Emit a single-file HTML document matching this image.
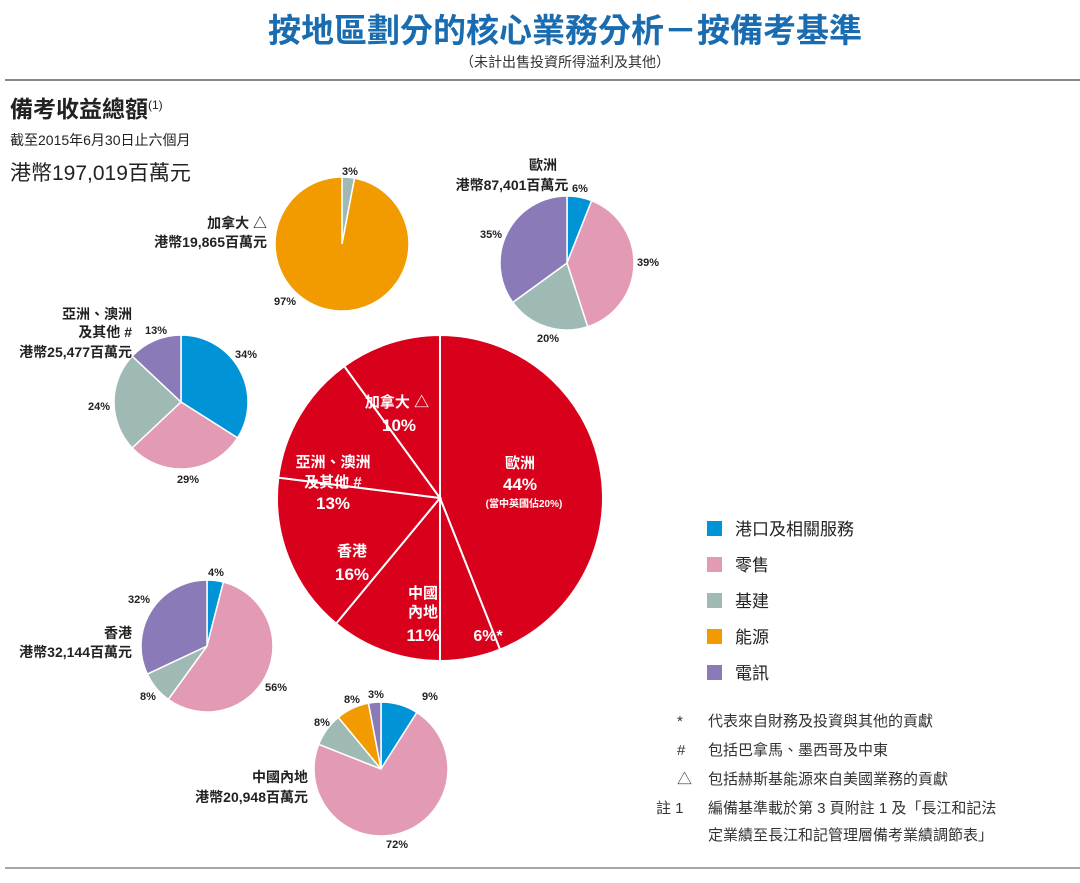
<!DOCTYPE html>
<html><head><meta charset="utf-8"><style>
body{margin:0;width:1080px;height:883px;background:#fff;overflow:hidden;font-family:"Liberation Sans","Noto Sans CJK TC",sans-serif;}
svg{display:block}
</style></head><body>
<svg id="chart" width="1080" height="883" font-family="Liberation Sans, Noto Sans CJK TC, sans-serif">
<text x="565" y="42" text-anchor="middle" font-size="33" font-weight="bold" fill="#1a6cb0">按地區劃分的核心業務分析－按備考基準</text>
<text x="565" y="67" text-anchor="middle" font-size="14" fill="#333">（未計出售投資所得溢利及其他）</text>
<line x1="5" y1="80" x2="1080" y2="80" stroke="#888" stroke-width="2"/>
<text x="10" y="117" font-size="23" font-weight="bold" fill="#222">備考收益總額<tspan font-size="12" dy="-8" font-weight="normal">(1)</tspan></text>
<text x="10" y="145" font-size="14" fill="#222">截至2015年6月30日止六個月</text>
<text x="10" y="180" font-size="21" fill="#222">港幣197,019百萬元</text>
<g id="pies"></g>
<g id="labels" font-size="13" fill="#222" font-weight="bold"></g>
<g font-size="17" fill="#222">
<rect x="707" y="521" width="15" height="15" fill="#0093d6"/><text x="735" y="535">港口及相關服務</text>
<rect x="707" y="557" width="15" height="15" fill="#e39ab5"/><text x="735" y="571">零售</text>
<rect x="707" y="593" width="15" height="15" fill="#9fbab4"/><text x="735" y="607">基建</text>
<rect x="707" y="629" width="15" height="15" fill="#f29b00"/><text x="735" y="643">能源</text>
<rect x="707" y="665" width="15" height="15" fill="#8a7bb8"/><text x="735" y="679">電訊</text>
</g>
<g font-size="15" fill="#333">
<text x="677" y="726">*</text><text x="708" y="726">代表來自財務及投資與其他的貢獻</text>
<text x="677" y="755">#</text><text x="708" y="755">包括巴拿馬、墨西哥及中東</text>
<text x="677" y="784">△</text><text x="708" y="784">包括赫斯基能源來自美國業務的貢獻</text>
<text x="656" y="813">註 1</text><text x="708" y="813">編備基準載於第 3 頁附註 1 及「長江和記法</text>
<text x="708" y="840">定業績至長江和記管理層備考業績調節表」</text>
</g>
<line x1="5" y1="868" x2="1080" y2="868" stroke="#888" stroke-width="1.5"/>
</svg>
<script>
const mainRegions=["歐洲","其他","中國內地","香港","亞洲、澳洲及其他","加拿大"];
const mainValues=[44,6,11,16,13,10];
const canadaValues=[0,0,3,97,0];
const europeValues=[6,39,20,0,35];
const asiaValues=[34,29,24,0,13];
const hkValues=[4,56,8,0,32];
const chinaValues=[9,72,8,8,3];
const segColors=["#0093d6","#e39ab5","#9fbab4","#f29b00","#8a7bb8"];
const NS="http://www.w3.org/2000/svg";
const g=document.getElementById('pies');
function pt(cx,cy,r,f){const a=f*2*Math.PI;return [cx+r*Math.sin(a),cy-r*Math.cos(a)];}
function drawPie(name,cx,cy,r,vals,colors,stroke,sw){
  const tot=vals.reduce((a,b)=>a+b,0);let acc=0;
  vals.forEach((v,i)=>{if(!v)return;const f0=acc/tot,f1=(acc+v)/tot;acc+=v;
    const p=document.createElementNS(NS,'path');
    const [x0,y0]=pt(cx,cy,r,f0),[x1,y1]=pt(cx,cy,r,f1);
    const d=(f1-f0>=0.9999)?`M${cx-r},${cy}A${r},${r} 0 1 1 ${cx+r},${cy}A${r},${r} 0 1 1 ${cx-r},${cy}Z`:`M${cx},${cy}L${x0},${y0}A${r},${r} 0 ${f1-f0>0.5?1:0} 1 ${x1},${y1}Z`;
    p.setAttribute('d',d);p.setAttribute('fill',colors[i%colors.length]);
    p.setAttribute('stroke',stroke);p.setAttribute('stroke-width',sw);
    
    
    g.appendChild(p);});
}
drawPie('main-pie',440,498,163,mainValues,["#d9001b"],"#fff",2);
drawPie('canada-pie',342,244,67,canadaValues,segColors,"#fff",1.5);
drawPie('europe-pie',567,263,67,europeValues,segColors,"#fff",1.5);
drawPie('asia-pie',181,402,67,asiaValues,segColors,"#fff",1.5);
drawPie('hk-pie',207,646,66,hkValues,segColors,"#fff",1.5);
drawPie('china-pie',381,769,67,chinaValues,segColors,"#fff",1.5);
const L=document.getElementById('labels');
function t(x,y,s,anchor,size,fill,name){const e=document.createElementNS(NS,'text');e.setAttribute('x',x);e.setAttribute('y',y);e.setAttribute('text-anchor',anchor||'start');if(size)e.setAttribute('font-size',size);if(fill)e.setAttribute('fill',fill);e.textContent=s;


L.appendChild(e);}
t(267,228,"加拿大 △","end",14,null,"canada-name");t(267,247,"港幣19,865百萬元","end",14,null,"canada-value");
t(350,175,canadaValues[2]+"%","middle",11,null,"canada-pct");t(285,305,canadaValues[3]+"%","middle",11,null,"canada-pct");
t(543,170,"歐洲","middle",14,null,"europe-name");t(512,190,"港幣87,401百萬元","middle",14,null,"europe-value");
t(580,192,europeValues[0]+"%","middle",11,null,"europe-pct");t(648,266,europeValues[1]+"%","middle",11,null,"europe-pct");t(548,342,europeValues[2]+"%","middle",11,null,"europe-pct");t(491,238,europeValues[4]+"%","middle",11,null,"europe-pct");
t(132,319,"亞洲、澳洲","end",14,null,"asia-name");t(132,337,"及其他 #","end",14,null,"asia-name");t(132,357,"港幣25,477百萬元","end",14,null,"asia-value");
t(156,334,asiaValues[4]+"%","middle",11,null,"asia-pct");t(246,358,asiaValues[0]+"%","middle",11,null,"asia-pct");t(188,483,asiaValues[1]+"%","middle",11,null,"asia-pct");t(99,410,asiaValues[2]+"%","middle",11,null,"asia-pct");
t(132,638,"香港","end",14,null,"hk-name");t(132,657,"港幣32,144百萬元","end",14,null,"hk-value");
t(216,576,hkValues[0]+"%","middle",11,null,"hk-pct");t(276,691,hkValues[1]+"%","middle",11,null,"hk-pct");t(148,700,hkValues[2]+"%","middle",11,null,"hk-pct");t(139,603,hkValues[4]+"%","middle",11,null,"hk-pct");
t(308,782,"中國內地","end",14,null,"china-name");t(308,802,"港幣20,948百萬元","end",14,null,"china-value");
t(430,700,chinaValues[0]+"%","middle",11,null,"china-pct");t(397,848,chinaValues[1]+"%","middle",11,null,"china-pct");t(322,726,chinaValues[2]+"%","middle",11,null,"china-pct");t(352,703,chinaValues[3]+"%","middle",11,null,"china-pct");t(376,698,chinaValues[4]+"%","middle",11,null,"china-pct");
const W="#fff";
t(520,468,"歐洲","middle",15,W,"main-europe-name");t(520,490,mainValues[0]+"%","middle",17,W,"main-europe-pct");t(524,507,"(當中英國佔20%)","middle",10,W,"main-europe-note");
t(488,641,mainValues[1]+"%*","middle",16,W,"main-other-pct");
t(423,598,"中國","middle",15,W,"main-china-name");t(423,617,"內地","middle",15,W,"main-china-name");t(423,641,mainValues[2]+"%","middle",17,W,"main-china-pct");
t(352,556,"香港","middle",15,W,"main-hk-name");t(352,580,mainValues[3]+"%","middle",17,W,"main-hk-pct");
t(333,467,"亞洲、澳洲","middle",15,W,"main-asia-name");t(333,487,"及其他 #","middle",15,W,"main-asia-name");t(333,509,mainValues[4]+"%","middle",17,W,"main-asia-pct");
t(397,407,"加拿大 △","middle",15,W,"main-canada-name");t(399,431,mainValues[5]+"%","middle",17,W,"main-canada-pct");
</script>
</body></html>
